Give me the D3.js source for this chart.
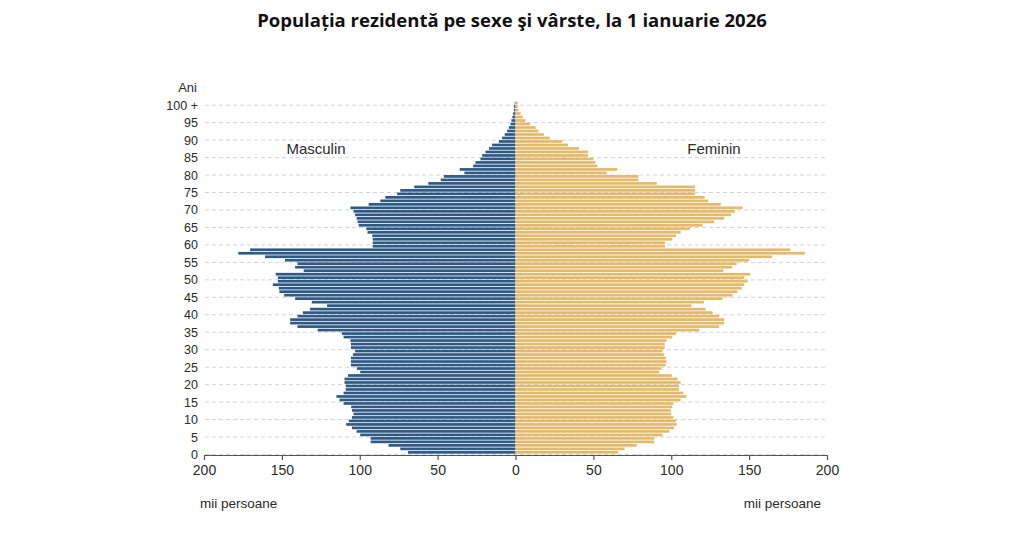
<!DOCTYPE html>
<html>
<head>
<meta charset="utf-8">
<script src="https://cdn.jsdelivr.net/npm/d3@7"></script>
<style>
  html, body { margin: 0; padding: 0; background: #fff; }
  svg { display: block; }
</style>
</head>
<body>
<svg id="chart" width="1024" height="539"></svg>
<script>
// ---- DATA (thousand persons, ages 0..100+) ----
const ages = d3.range(0, 101);
const male = [
  69, 74, 81.5, 93, 93, 99.7, 102, 105, 108.7, 107,
  105, 104, 105, 105.5, 110.4, 113, 115, 110.4, 109, 109,
  109.8, 109.8, 107.6, 99.7, 101.8, 105.7, 105.7, 105.7, 104.4, 103,
  105.7, 105.7, 106, 110.4, 111.5, 127, 140, 144.7, 144.7, 140,
  136.5, 132, 121, 130.8, 141.5, 148.5, 151.6, 152, 155.8, 152.6,
  152.6, 154, 136, 141.5, 140, 148, 160.8, 178, 170.4, 91.7,
  91.7, 91.7, 92, 95, 95.8, 100.7, 101.4, 102, 103, 104,
  106, 94.3, 86.8, 83.6, 76, 74, 65, 56, 48, 46,
  32.8, 35.8, 27.2, 25.7, 22.5, 21.4, 19.3, 17, 15, 10.7,
  8.6, 6.9, 5.4, 4.3, 3.2, 2.6, 2, 1.5, 1, 1, 0.5
];
const female = [
  65.8, 70, 77.8, 89, 89, 94.3, 98.6, 101.8, 103.5, 103,
  101.4, 100, 99.7, 100.7, 101.4, 106, 109.8, 107.8, 105, 105,
  106, 104, 100.3, 92.2, 93.7, 96.5, 97, 96.5, 95.4, 94.3,
  95.8, 95.8, 97, 100.7, 103, 118, 130.8, 134, 134, 130.8,
  126.5, 122, 113, 121, 133, 139.3, 142.5, 145.3, 146.8, 149,
  146.8, 150.7, 133.5, 139, 142, 150, 164.6, 185.8, 176.4, 96,
  96, 100.7, 103, 106, 112, 120, 127.5, 134, 138.3, 140.8,
  145.8, 131.8, 123.7, 121.5, 115.3, 115.3, 115.3, 90.7, 78.9, 78.9,
  58.5, 65.4, 52.5, 51.4, 50, 46.5, 46.5, 40.7, 33.7, 30,
  22, 18.2, 14.6, 12.9, 9.2, 6.4, 4.7, 3.2, 2, 1.5, 1.5
];
const xTicks = [-200, -150, -100, -50, 0, 50, 100, 150, 200];
const yTicks = d3.range(0, 101, 5);
const yTickLabels = yTicks.map(a => a === 100 ? "100 +" : String(a));

const title = "Populația rezidentă pe sexe şi vârste, la 1 ianuarie 2026";
const maleLabel = "Masculin";
const femaleLabel = "Feminin";
const unitLabel = "mii persoane";
const ageLabel = "Ani";

// ---- LAYOUT ----
const svg = d3.select("#chart");
const xLeft = 204, xRight = 827, yBase = 454.5, step = 3.493;
const x = d3.scaleLinear().domain([-200, 200]).range([xLeft, xRight]);
const y = d3.scaleLinear().domain([0, 101]).range([yBase, yBase - 101 * step]);

const maleColor = "#2f5a86";
const femaleColor = "#e4b96b";
const textColor = "#2b2b2b";
const sans = "'Liberation Sans', Arial, sans-serif";

// title
svg.append("text")
  .attr("x", 512).attr("y", 27)
  .attr("text-anchor", "middle")
  .attr("font-family", "'Open Sans', sans-serif")
  .attr("font-weight", 700)
  .attr("font-size", 18.5)
  .attr("fill", "#111")
  .text(title);

// gridlines
svg.append("g").selectAll("line")
  .data(yTicks)
  .join("line")
  .attr("x1", xLeft + 1).attr("x2", xRight)
  .attr("y1", d => y(d)).attr("y2", d => y(d))
  .attr("stroke", "#d4d4d4")
  .attr("stroke-width", 1)
  .attr("stroke-dasharray", "4,3");

// bars
const gap = 0.8;
svg.append("g").selectAll("rect.m")
  .data(ages)
  .join("rect")
  .attr("class", "m")
  .attr("x", a => x(-male[a]))
  .attr("y", a => y(a + 1))
  .attr("width", a => x(0) - x(-male[a]))
  .attr("height", a => y(a) - y(a + 1) - gap)
  .attr("fill", maleColor);

svg.append("g").selectAll("rect.f")
  .data(ages)
  .join("rect")
  .attr("class", "f")
  .attr("x", x(0))
  .attr("y", a => y(a + 1))
  .attr("width", a => x(female[a]) - x(0))
  .attr("height", a => y(a) - y(a + 1) - gap)
  .attr("fill", femaleColor);

// x axis
const xAxis = d3.axisBottom(x)
  .tickValues(xTicks)
  .tickFormat(d => Math.abs(d))
  .tickSize(5)
  .tickPadding(4)
  .tickSizeOuter(0);
const gx = svg.append("g")
  .attr("transform", `translate(0,${yBase + 0.5})`)
  .call(xAxis);
gx.select(".domain").attr("stroke", "#555").attr("stroke-width", 1.2);
gx.selectAll(".tick line").attr("stroke", "#555").attr("stroke-width", 1.2);
gx.selectAll(".tick text")
  .attr("font-family", sans)
  .attr("font-size", 14)
  .attr("fill", textColor)
  .attr("dy", "0.75em");

// y labels
const yAxis = d3.axisLeft(y)
  .tickValues(yTicks)
  .tickFormat((d, i) => yTickLabels[i])
  .tickSize(0)
  .tickPadding(0);
const gy = svg.append("g")
  .attr("transform", `translate(198,0)`)
  .call(yAxis);
gy.select(".domain").remove();
gy.selectAll(".tick text")
  .attr("font-family", sans)
  .attr("font-size", 12.5)
  .attr("fill", textColor);

svg.append("text")
  .attr("x", 197).attr("y", 92)
  .attr("text-anchor", "end")
  .attr("font-family", sans).attr("font-size", 13)
  .attr("fill", textColor)
  .text(ageLabel);

// series labels
svg.append("text")
  .attr("x", 316).attr("y", 154)
  .attr("text-anchor", "middle")
  .attr("font-family", sans).attr("font-size", 15)
  .attr("fill", textColor)
  .text(maleLabel);
svg.append("text")
  .attr("x", 714).attr("y", 154)
  .attr("text-anchor", "middle")
  .attr("font-family", sans).attr("font-size", 15)
  .attr("fill", textColor)
  .text(femaleLabel);

// unit labels
svg.append("text")
  .attr("x", 200).attr("y", 508)
  .attr("font-family", sans).attr("font-size", 13.5)
  .attr("fill", textColor)
  .text(unitLabel);
svg.append("text")
  .attr("x", 821).attr("y", 508)
  .attr("text-anchor", "end")
  .attr("font-family", sans).attr("font-size", 13.5)
  .attr("fill", textColor)
  .text(unitLabel);
</script>
</body>
</html>
